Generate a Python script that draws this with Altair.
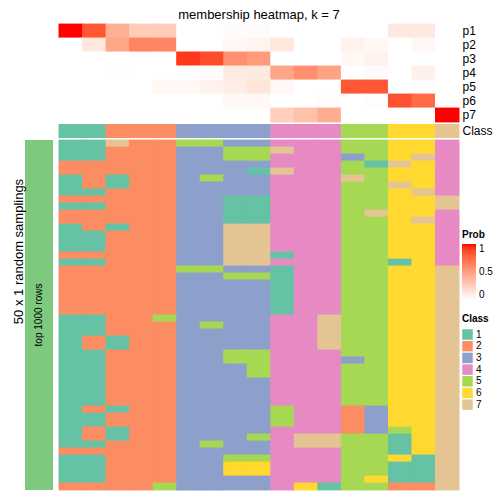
import altair as alt
import pandas as pd

title_text = "membership heatmap, k = 7"
row_title = "50 x 1 random samplings"
bar_label = "top 1000 rows"
prob_rows = ["p1", "p2", "p3", "p4", "p5", "p6", "p7"]
class_ids = ["1", "2", "3", "4", "5", "6", "7"]
class_colors = ["#66C2A5", "#FC8D62", "#8DA0CB", "#E78AC3", "#A6D854", "#FFD92F", "#E5C494"]
column_class = [1, 1, 2, 2, 2, 3, 3, 3, 3, 4, 4, 4, 5, 5, 6, 6, 7]

p1 = [1.00, 0.82, 0.42, 0.27, 0.27, 0.00, 0.00, 0.02, 0.02, 0.00, 0.00, 0.00, 0.00, 0.00, 0.12, 0.12, 0.00]
p2 = [0.00, 0.13, 0.47, 0.63, 0.62, 0.00, 0.00, 0.04, 0.06, 0.13, 0.00, 0.00, 0.07, 0.04, 0.00, 0.04, 0.00]
p3 = [0.00, 0.00, 0.00, 0.00, 0.00, 0.92, 0.86, 0.58, 0.52, 0.00, 0.00, 0.00, 0.04, 0.07, 0.00, 0.00, 0.00]
p4 = [0.00, 0.00, 0.01, 0.00, 0.00, 0.00, 0.01, 0.11, 0.11, 0.47, 0.58, 0.48, 0.00, 0.02, 0.00, 0.08, 0.00]
p5 = [0.00, 0.00, 0.00, 0.00, 0.04, 0.04, 0.07, 0.10, 0.14, 0.04, 0.00, 0.00, 0.82, 0.82, 0.00, 0.01, 0.00]
p6 = [0.00, 0.00, 0.00, 0.00, 0.00, 0.00, 0.00, 0.04, 0.04, 0.00, 0.00, 0.01, 0.00, 0.01, 0.84, 0.74, 0.00]
p7 = [0.00, 0.00, 0.00, 0.00, 0.00, 0.00, 0.00, 0.00, 0.00, 0.26, 0.33, 0.43, 0.00, 0.00, 0.00, 0.00, 1.00]

# class assigned to each of the 17 columns in each of the 50 random samplings
samplings = [
    "11722553344455664", "11222335574455664", "11222335544435674", "22222333344451764",
    "22222333174455664", "12122353344475664", "12122333344455764", "11222333344455674",
    "22222331144455667", "11222331144455667", "22222331144457664", "22222331144455674",
    "12122337744455664", "11222337744455664", "11222337744455664", "11222337744455664",
    "22222337714455664", "11222337744455164", "22222553314455667", "22222335514455667",
    "22222333314455667", "22222333314455667", "22222333314455667", "22222333314455667",
    "22222333314455667", "11225333344755667", "11222353344755667", "11222333344755667",
    "12122333344755667", "12122333344755667", "11222335544455667", "11222335544435667",
    "11222333544455667", "11222333544455667", "11222333344455667", "11222333344455667",
    "11222333344455667", "11222333344455667", "12122333354423667", "11222333354423667",
    "11222333354423667", "12122333344423567", "12122333547755167", "11222353347755167",
    "22222333344455167", "11222335544455617", "11222336644455117", "11222336644455117",
    "11222333344456117", "22225333346155227",
]

prob_values = [p1, p2, p3, p4, p5, p6, p7]
n_cols = len(column_class)

prob_df = pd.DataFrame(
    [{"col": c + 1, "row": r, "value": vals[c]} for r, vals in zip(prob_rows, prob_values) for c in range(n_cols)]
)
class_df = pd.DataFrame([{"col": c + 1, "lab": "Class", "cls": str(column_class[c])} for c in range(n_cols)])
samp_df = pd.DataFrame(
    [{"sample": i + 1, "col": c + 1, "cls": s[c]} for i, s in enumerate(samplings) for c in range(n_cols)]
)
bar_df = pd.DataFrame({"label": [bar_label]})
spacer_df = pd.DataFrame({"s": [""]})

band0 = alt.Scale(paddingInner=0, paddingOuter=0)
prob_scale = alt.Scale(domain=[0, 1], range=["#FFFFFF", "#FF0000"], interpolate="lab")
class_scale = alt.Scale(domain=class_ids, range=class_colors)

row_axis = alt.Axis(orient="right", title=None, ticks=False, domain=False, labelPadding=3,
                    labelFontSize=12, labelColor="black")

W = 400
H_TOP = 98
H_CLASS = 14
H_BOTTOM = 350

top = alt.Chart(
    prob_df,
    title=alt.TitleParams(title_text, fontSize=13, fontWeight="normal", anchor="middle", offset=2, color="black"),
).mark_rect(width=alt.RelativeBandSize(1.04), height=alt.RelativeBandSize(1.06)).encode(
    x=alt.X("col:O", axis=None, scale=band0),
    y=alt.Y("row:N", sort=prob_rows, scale=band0, axis=row_axis),
    color=alt.Color("value:Q", scale=prob_scale, legend=alt.Legend(
        type="gradient", title="Prob", orient="none", legendX=403, legendY=206, direction="vertical",
        gradientLength=56, gradientThickness=14, gradientStrokeWidth=0,
        values=[0, 0.5, 1], labelExpr="datum.value", labelFontSize=10, labelOffset=3,
        titleFontSize=10, titleFontWeight="bold", titlePadding=4, padding=0,
        labelColor="black", titleColor="black")),
).properties(width=W, height=H_TOP)

class_row = alt.Chart(class_df).mark_rect(width=alt.RelativeBandSize(1.04)).encode(
    x=alt.X("col:O", axis=None, scale=band0),
    y=alt.Y("lab:N", scale=band0, axis=row_axis),
    color=alt.Color("cls:N", scale=class_scale, legend=None),
).properties(width=W, height=H_CLASS)

bottom = alt.Chart(samp_df).mark_rect(width=alt.RelativeBandSize(1.04), height=alt.RelativeBandSize(1.12)).encode(
    x=alt.X("col:O", axis=None, scale=band0),
    y=alt.Y("sample:O", axis=None, scale=band0),
    color=alt.Color("cls:N", scale=class_scale, legend=alt.Legend(
        title="Class", orient="none", legendX=403, legendY=174, symbolType="square",
        symbolSize=110, symbolStrokeWidth=0, rowPadding=0.7, labelFontSize=10, labelOffset=3,
        titleFontSize=10, titleFontWeight="bold", titlePadding=5, padding=0,
        labelColor="black", titleColor="black")),
).properties(width=W, height=H_BOTTOM)

bar_base = alt.Chart(bar_df).encode(
    x=alt.X("label:N", axis=None, scale=band0),
    y=alt.Y("label:N", scale=band0, axis=alt.Axis(
        title=row_title, labels=False, ticks=False, domain=False, minExtent=0,
        titleFontSize=13, titleFontWeight="normal", titlePadding=0, titleY=111, titleColor="black")),
)
green_bar = (
    bar_base.mark_rect(color="#7FC97F")
    + bar_base.mark_text(angle=270, fontSize=10, color="black").encode(text="label:N")
).properties(width=28, height=H_BOTTOM)


def spacer(h):
    return alt.Chart(spacer_df).mark_rect(opacity=0).encode(
        x=alt.X("s:N", axis=None), y=alt.Y("s:N", axis=None)
    ).properties(width=28, height=h)


chart = alt.concat(
    spacer(H_TOP), top,
    spacer(H_CLASS), class_row,
    green_bar, bottom,
    columns=2,
    spacing=alt.RowColnumber(row=2, column=6),
    bounds="flush",
    align="each",
).resolve_scale(color="independent").properties(
    padding={"left": 4, "top": 0, "right": 0, "bottom": 0}
).configure(font="Liberation Sans").configure_view(stroke=None)

chart.save("out.html", embed_options={"renderer": "svg", "actions": False})
